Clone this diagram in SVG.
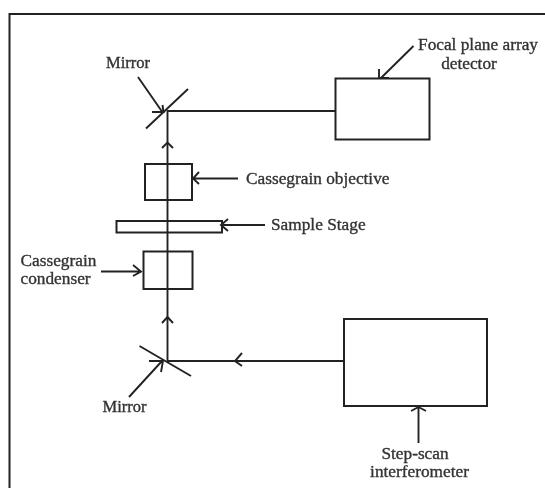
<svg xmlns="http://www.w3.org/2000/svg" width="545" height="488" viewBox="0 0 545 488">
<style>
.l{fill:none;stroke:#222;stroke-width:1.9}
.b{fill:none;stroke:#222;stroke-width:2}
text{font-family:"Liberation Serif","Times New Roman",serif;font-size:17.3px;fill:#333;stroke:#333;stroke-width:.35}
.m{text-anchor:middle}
.s{font-size:16.5px}
</style>
<defs><filter id="s" x="-5%" y="-5%" width="110%" height="110%"><feGaussianBlur stdDeviation="0.5"/></filter></defs>
<rect width="545" height="488" fill="#fff"/>
<g filter="url(#s)">
<path id="frame" d="M9.500 488V14H545" fill="none" stroke="#222" stroke-width="2"/>
<g id="connectors">
<path class="l" d="M335 111H167.500V361H344"/>
<path class="l" d="M162 148L167.500 142.500L173 148"/>
<path class="l" d="M162 323L167.500 317L173 323"/>
<path class="l" d="M242 353L235 361L242 366"/>
<path class="l" d="M146 128.500L188 89"/>
<path class="l" d="M139.500 346L191 376"/>
<path class="l" d="M138 77L163 113M152 112H163.500L162.500 105"/>
<path class="l" d="M129 397L162 361M149 361H163L161 372"/>
<path class="l" d="M413.500 46L381 78M379 69V78H389"/>
<path class="l" d="M238 178.500H193M199 172L193 178.500L199 184"/>
<path class="l" d="M265 225H222M228 219L221 225L228 231"/>
<path class="l" d="M101 271.500H141M133 265L141 271.500L133 276"/>
<path class="l" d="M418.500 443V407M411 411L418.500 407L426 411"/>
</g>
<g id="mirror-top"><text class="m s" x="128" y="68">Mirror</text></g>
<g id="detector"><rect class="b" x="335.500" y="78.500" width="94" height="61"/><text class="m" x="478" y="50">Focal plane array</text><text class="m" x="469" y="69">detector</text></g>
<g id="objective"><rect class="b" x="145" y="164" width="47" height="36"/><text x="246" y="184">Cassegrain objective</text></g>
<g id="stage"><rect class="b" x="116.500" y="221" width="105.500" height="11.500"/><text x="271" y="230">Sample Stage</text></g>
<g id="condenser"><rect class="b" x="143.500" y="251.500" width="49" height="37.500"/><text x="20.500" y="266">Cassegrain</text><text x="20.500" y="284">condenser</text></g>
<g id="mirror-bottom"><text class="m s" x="124.500" y="412">Mirror</text></g>
<g id="interferometer"><rect class="b" x="344" y="319" width="143" height="87"/><text class="m" x="415" y="459">Step-scan</text><text class="m" x="419.500" y="477">interferometer</text></g>
</g>
</svg>
